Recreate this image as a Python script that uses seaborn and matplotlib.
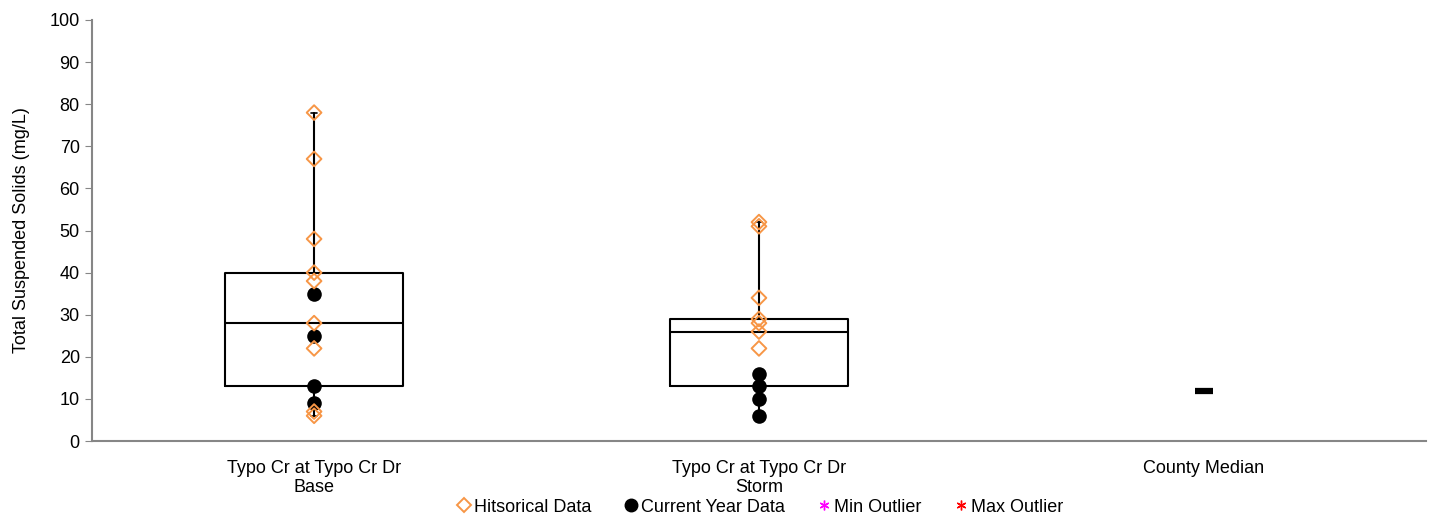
import matplotlib
matplotlib.use('Agg')
import matplotlib.pyplot as plt
from matplotlib.lines import Line2D
import seaborn as sns
import pandas as pd

sns.set_style('white')
plt.rcParams['font.family'] = ['Liberation Sans', 'DejaVu Sans']
plt.rcParams['text.color'] = 'black'
plt.rcParams['axes.labelcolor'] = 'black'
plt.rcParams['xtick.color'] = 'black'
plt.rcParams['ytick.color'] = 'black'

categories = ['Typo Cr at Typo Cr Dr\nBase', 'Typo Cr at Typo Cr Dr\nStorm', 'County Median']

# historical data points (open orange diamonds)
hist_base = [78, 67, 48, 40, 38, 28, 22, 7, 6]
hist_storm = [52, 51, 34, 29, 28, 26, 22]
# current year data (black circles)
curr_base = [35, 25, 13, 9]
curr_storm = [16, 13, 10, 6]

# box stats
box_q1 = [13, 13]
box_med = [28, 26]
box_q3 = [40, 29]
box_lo = [6, 6]
box_hi = [78, 52]
county_median = 12

hist_df = pd.DataFrame({
    'site': [categories[0]] * len(hist_base) + [categories[1]] * len(hist_storm),
    'value': hist_base + hist_storm,
})
curr_df = pd.DataFrame({
    'site': [categories[0]] * len(curr_base) + [categories[1]] * len(curr_storm),
    'value': curr_base + curr_storm,
})
med_df = pd.DataFrame({'site': [categories[2]], 'value': [county_median]})

orange = '#F79646'
grey = '#868686'

fig = plt.figure(figsize=(14.32, 5.18), dpi=100)
ax = fig.add_axes([0.064, 0.1486, 0.932, 0.8128])

stats = []
for i in range(2):
    stats.append({'q1': box_q1[i], 'med': box_med[i], 'q3': box_q3[i],
                  'whislo': box_lo[i], 'whishi': box_hi[i], 'fliers': []})
ax.bxp(stats, positions=[0, 1], widths=0.4, showfliers=False,
       boxprops=dict(color='black', linewidth=1.5),
       medianprops=dict(color='black', linewidth=1.5),
       whiskerprops=dict(color='black', linewidth=1.5),
       capprops=dict(color='black', linewidth=1.2), capwidths=0.015,
       manage_ticks=False)

sns.stripplot(data=curr_df, x='site', y='value', order=categories, jitter=False,
              color='black', marker='o', size=10.5, linewidth=0, ax=ax, zorder=3)
sns.stripplot(data=hist_df, x='site', y='value', order=categories, jitter=False,
              marker='D', size=7.5, color='none', edgecolor=orange, linewidth=1.4,
              ax=ax, zorder=4)
sns.stripplot(data=med_df, x='site', y='value', order=categories, jitter=False,
              marker='_', size=13, color='black', linewidth=4.5, ax=ax, zorder=4)

ax.set_xlim(-0.5, 2.5)
ax.set_ylim(0, 100)
ax.set_yticks(range(0, 101, 10))
ax.set_xticks(range(3))
ax.set_xticklabels(categories, fontsize=13, linespacing=1.15)
ax.set_xticks([-0.5, 0.5, 1.5, 2.5], minor=True)
ax.tick_params(axis='x', which='major', length=0, pad=14)
ax.tick_params(axis='x', which='minor', length=6, color=grey, direction='out')
ax.tick_params(axis='y', length=5, color=grey, direction='out', labelsize=13, left=True)
ax.set_xlabel('')
ax.set_ylabel('Total Suspended Solids (mg/L)', fontsize=13, labelpad=14)

for s in ['top', 'right']:
    ax.spines[s].set_visible(False)
for s in ['left', 'bottom']:
    ax.spines[s].set_color(grey)
    ax.spines[s].set_linewidth(1.5)

handles = [
    Line2D([], [], marker='D', linestyle='none', markerfacecolor='none',
           markeredgecolor=orange, markeredgewidth=1.4, markersize=7),
    Line2D([], [], marker='o', linestyle='none', color='black', markersize=9),
    Line2D([], [], marker=(6, 2, 0), linestyle='none', color='magenta', markersize=7),
    Line2D([], [], marker=(6, 2, 0), linestyle='none', color='red', markersize=7),
]
labels = ['Hitsorical Data', 'Current Year Data', 'Min Outlier', 'Max Outlier']
ax.legend(handles, labels, loc='center', bbox_to_anchor=(0.5, -0.157), ncol=4,
          frameon=False, fontsize=13, handletextpad=0.05, columnspacing=1.7,
          handlelength=1.0)

fig.savefig('out.png', dpi=100)
